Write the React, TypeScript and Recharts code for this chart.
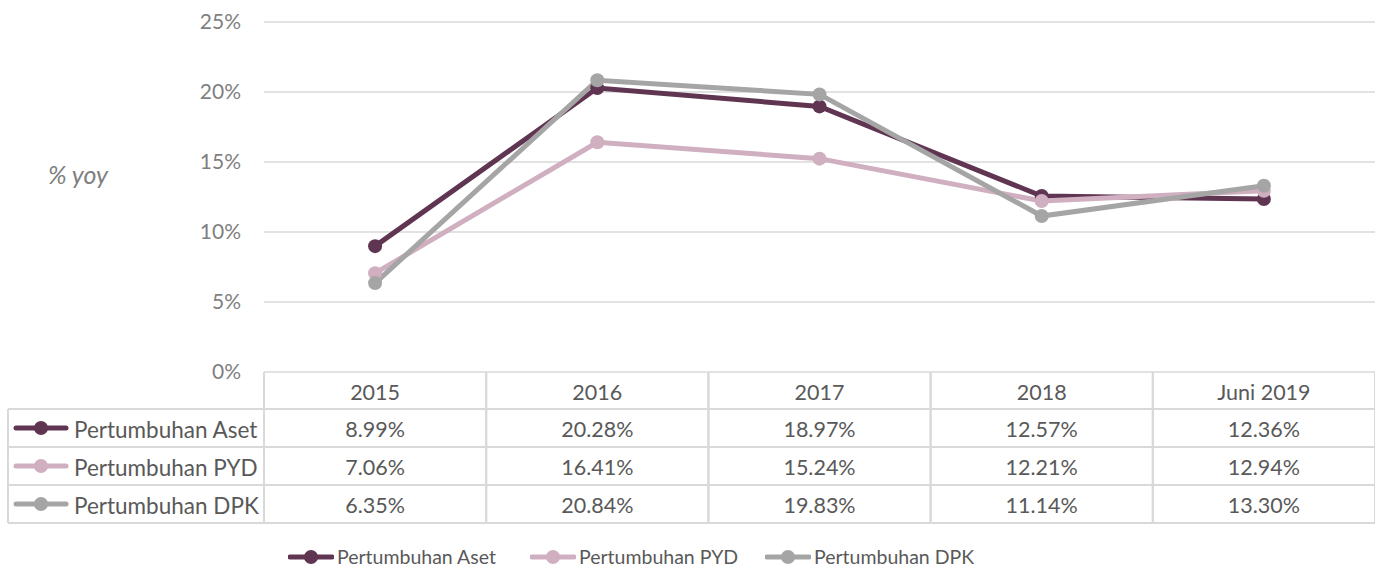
import React from 'react';
import { LineChart, Line, XAxis, YAxis, CartesianGrid, Legend } from 'recharts';

const categories = ['2015', '2016', '2017', '2018', 'Juni 2019'];
const asetValues = [8.99, 20.28, 18.97, 12.57, 12.36];
const pydValues = [7.06, 16.41, 15.24, 12.21, 12.94];
const dpkValues = [6.35, 20.84, 19.83, 11.14, 13.3];
const yTicks = [0, 5, 10, 15, 20, 25];

const seriesList = [
  { key: 'aset', name: 'Pertumbuhan Aset', color: '#5F3552', values: asetValues },
  { key: 'pyd', name: 'Pertumbuhan PYD', color: '#CFAFC0', values: pydValues },
  { key: 'dpk', name: 'Pertumbuhan DPK', color: '#A5A5A5', values: dpkValues },
];

const data = categories.map((c, i) => ({
  cat: c,
  aset: asetValues[i],
  pyd: pydValues[i],
  dpk: dpkValues[i],
}));

const W = 1375;
const H = 566;
const Y_AXIS_W = 264;
const COL_W = (W - Y_AXIS_W) / categories.length;
const FONT = 'Lato, "Noto Sans", sans-serif';
const FS = 21.5;
const GRID = '#D9D9D9';
const TXT = '#595959';
const HEADER_H = 37;
const ROW_H = 38;
const TABLE_LEFT = 8;
const LEGEND_ITEM_W = [242, 235, 240];

const fmt = (v: number) => v.toFixed(2) + '%';

const LegendIcon = ({ x, y, color }: { x: number; y: number; color: string }) => (
  <g>
    <line x1={x} y1={y} x2={x + 50} y2={y} stroke={color} strokeWidth={5} strokeLinecap="round" />
    <circle cx={x + 25} cy={y} r={7} fill={color} />
  </g>
);

const TableTick = (props: any) => {
  const { x, y, payload, index } = props;
  const i = payload && typeof payload.index === 'number' ? payload.index : index;
  const top = y;
  const bottom = top + HEADER_H + ROW_H * seriesList.length;
  const l = x - COL_W / 2;
  const r = x + COL_W / 2;
  const elems: any[] = [];
  elems.push(
    <text key="h" x={x} y={top + HEADER_H / 2 + 1} textAnchor="middle" dominantBaseline="central" fill={TXT} fontSize={FS} fontFamily={FONT}>
      {payload.value}
    </text>
  );
  elems.push(<line key="vl" x1={l} y1={top} x2={l} y2={bottom} stroke={GRID} strokeWidth={2} />);
  elems.push(<line key="vr" x1={r} y1={top} x2={r} y2={bottom} stroke={GRID} strokeWidth={2} />);
  seriesList.forEach((s, k) => {
    const rowTop = top + HEADER_H + ROW_H * k;
    elems.push(<line key={'hl' + k} x1={l} y1={rowTop} x2={r} y2={rowTop} stroke={GRID} strokeWidth={2} />);
    elems.push(
      <text key={'t' + k} x={x} y={rowTop + ROW_H / 2 + 1} textAnchor="middle" dominantBaseline="central" fill={TXT} fontSize={FS} fontFamily={FONT}>
        {fmt(s.values[i])}
      </text>
    );
  });
  elems.push(<line key="hb" x1={l} y1={bottom} x2={r} y2={bottom} stroke={GRID} strokeWidth={2} />);
  if (i === 0) {
    elems.push(<line key="ll" x1={TABLE_LEFT} y1={top + HEADER_H} x2={TABLE_LEFT} y2={bottom} stroke={GRID} strokeWidth={2} />);
    seriesList.forEach((s, k) => {
      const rowTop = top + HEADER_H + ROW_H * k;
      elems.push(<line key={'lh' + k} x1={TABLE_LEFT} y1={rowTop} x2={l} y2={rowTop} stroke={GRID} strokeWidth={2} />);
      elems.push(<LegendIcon key={'li' + k} x={16} y={rowTop + ROW_H / 2} color={s.color} />);
      elems.push(
        <text key={'lt' + k} x={74} y={rowTop + ROW_H / 2 + 1} textAnchor="start" dominantBaseline="central" fill={TXT} fontSize={22.5} fontFamily={FONT}>
          {s.name}
        </text>
      );
    });
    elems.push(<line key="lb" x1={TABLE_LEFT} y1={bottom} x2={l} y2={bottom} stroke={GRID} strokeWidth={2} />);
  }
  return <g>{elems}</g>;
};

const LegendContent = () => (
  <div style={{ height: 24, display: 'flex', justifyContent: 'flex-start', alignItems: 'center', fontFamily: FONT, fontSize: 19.5, color: TXT, transform: 'translateY(3px)', paddingLeft: 288 }}>
    {seriesList.map((s, k) => (
      <div key={s.key} style={{ display: 'flex', alignItems: 'center', width: LEGEND_ITEM_W[k], whiteSpace: 'nowrap' }}>
        <svg width={46} height={20} style={{ marginRight: 3 }}>
          <line x1={2} y1={10} x2={44} y2={10} stroke={s.color} strokeWidth={5} strokeLinecap="round" />
          <circle cx={23} cy={10} r={7} fill={s.color} />
        </svg>
        <span style={{ lineHeight: '24px' }}>{s.name}</span>
      </div>
    ))}
  </div>
);

export default function App() {
  return (
    <div style={{ position: 'absolute', left: 0, top: 0, width: W, height: H, background: '#fff', fontFamily: FONT }}>
      <LineChart width={W} height={H} data={data} margin={{ top: 22, right: 0, left: 0, bottom: 0 }}>
        <CartesianGrid vertical={false} stroke={GRID} strokeWidth={1.5} />
        <XAxis
          dataKey="cat"
          height={170}
          axisLine={false}
          tickLine={false}
          tickSize={0}
          tickMargin={0}
          interval={0}
          padding={{ left: COL_W / 2, right: COL_W / 2 }}
          tick={<TableTick />}
        />
        <YAxis
          width={Y_AXIS_W}
          domain={[0, 25]}
          ticks={yTicks}
          tickFormatter={(v: number) => v + '%'}
          axisLine={false}
          tickLine={false}
          tickSize={0}
          tickMargin={23}
          tick={{ fill: '#7F7F7F', fontSize: 21, fontFamily: FONT }}
          label={{ value: '% yoy', position: 'insideLeft', offset: 48, dy: -22, style: { fontStyle: 'italic', fill: '#7F7F7F', fontSize: 25, fontFamily: FONT } }}
        />
        {seriesList.map((s) => (
          <Line
            key={s.key}
            type="linear"
            dataKey={s.key}
            name={s.name}
            stroke={s.color}
            strokeWidth={5}
            dot={{ r: 7, fill: s.color, stroke: s.color, strokeWidth: 0 }}
            activeDot={false}
            isAnimationActive={false}
          />
        ))}
        <Legend verticalAlign="bottom" content={<LegendContent />} />
      </LineChart>
    </div>
  );
}
